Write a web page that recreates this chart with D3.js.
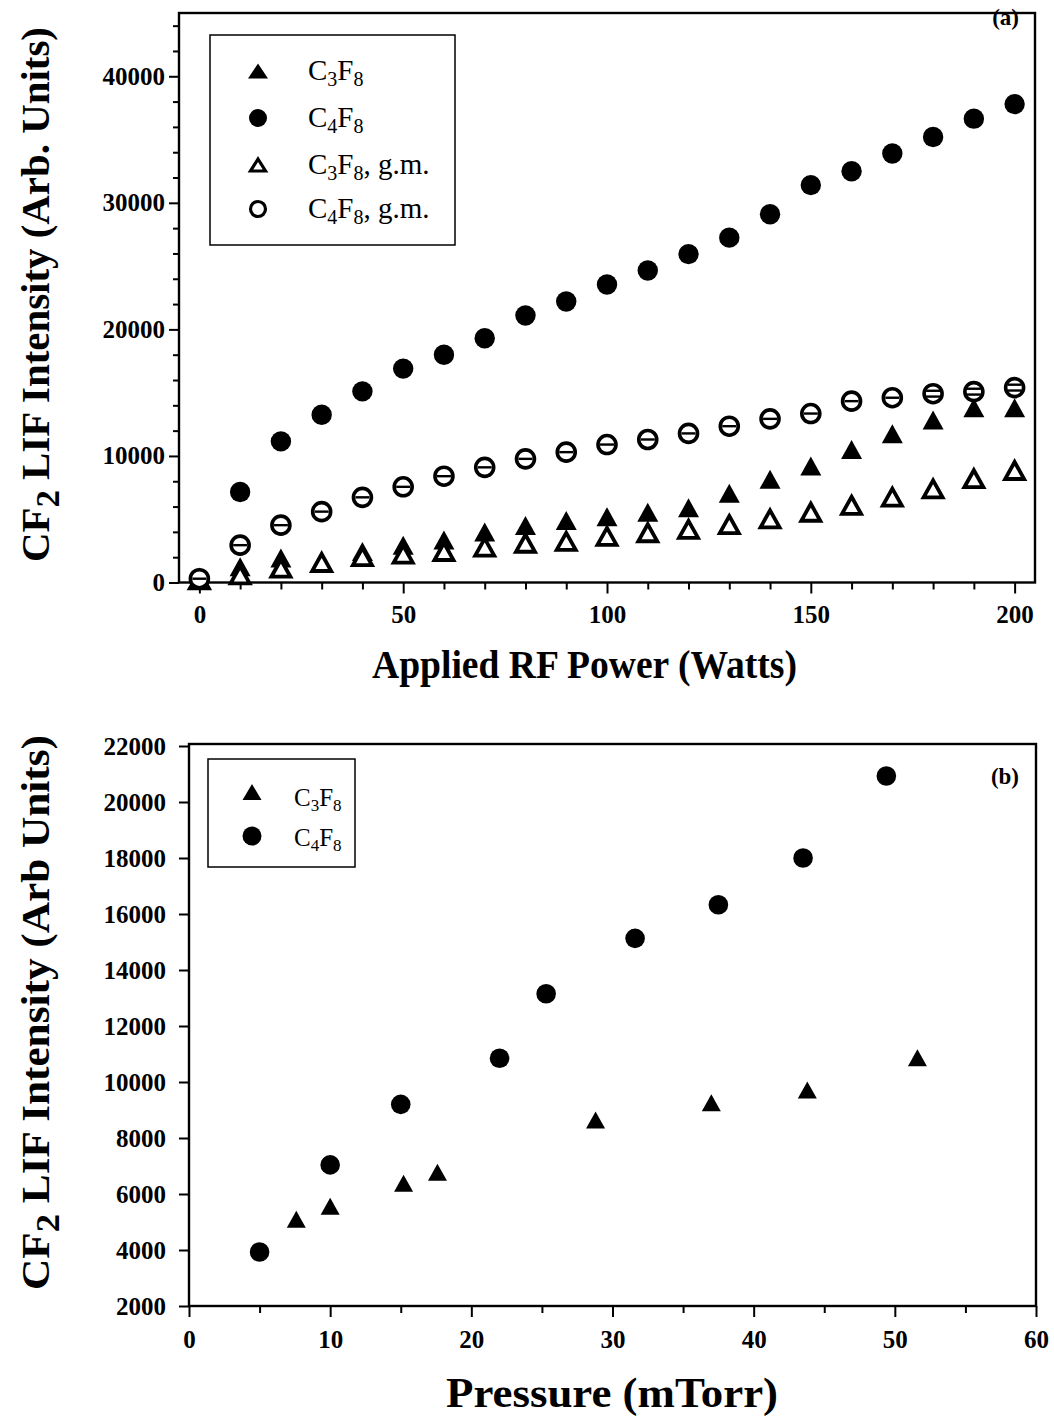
<!DOCTYPE html>
<html><head><meta charset="utf-8">
<script src="https://cdn.jsdelivr.net/npm/d3@7"></script>
<style>body{margin:0;background:#fff}svg{display:block}</style>
</head><body>
<script>
// ---------- Data: panel (a) ----------
const powerW = [0,10,20,30,40,50,60,70,80,90,100,110,120,130,140,150,160,170,180,190,200];
const c3f8_a  = [300,1250,1930,1700,2450,2950,3350,4000,4500,4900,5200,5550,5900,7050,8150,9200,10500,11750,12850,13800,13800];
const c4f8_a  = [300,7150,11150,13250,15100,16900,18000,19300,21100,22200,23550,24650,25950,27250,29100,31400,32500,33900,35200,36650,37800];
const c3f8gm_a = [200,600,1130,1580,2050,2250,2450,2800,3100,3250,3650,3930,4200,4580,5030,5550,6100,6750,7400,8200,8850];
const c4f8gm_a = [300,2950,4530,5600,6730,7560,8400,9100,9770,10300,10900,11300,11780,12350,12930,13350,14330,14600,14920,15080,15400];
const c4f8gm_err = [0,0,0,0,0,0,0,0,0,0,0,0,0,0,0,0,0,0,230,230,230];
const xTicksA = [0,50,100,150,200];
const yTicksA = [0,10000,20000,30000,40000];

// ---------- Data: panel (b) ----------
const pC4 = [5,10,15,22,25.3,31.6,37.5,43.5,49.4];
const c4f8_b = [3930,7040,9200,10850,13150,15130,16330,18000,20930];
const pC3 = [7.6,10,15.2,17.6,28.8,37.0,43.8,51.6];
const c3f8_b = [5100,5560,6380,6780,8640,9260,9710,10870];
const xTicksB = [0,10,20,30,40,50,60];
const yTicksB = [2000,4000,6000,8000,10000,12000,14000,16000,18000,20000,22000];

const W = 1054, H = 1419;
const FONT = "'Liberation Serif','Times New Roman',serif";
const svg = d3.select("body").append("svg").attr("width", W).attr("height", H)
  .style("font-family", FONT);

function triPath(w, h) {
  return `M0,${-h/2}L${w/2},${h/2}L${-w/2},${h/2}Z`;
}

function styleAxis(g, size) {
  g.attr("font-family", FONT);
  g.select(".domain").remove();
  g.selectAll(".tick line").attr("stroke", "#000").attr("stroke-width", 2);
  g.selectAll(".tick text").attr("fill", "#000").style("font-family", FONT)
    .style("font-size", size + "px").style("font-weight", "bold");
}

// ================= Panel (a) =================
{
  const x = d3.scaleLinear().domain([-5, 205]).range([179, 1035]);
  const y = d3.scaleLinear().domain([0, 45000]).range([582.5, 13]);
  const g = svg.append("g");

  const gxm = g.append("g").attr("transform", `translate(0,${y(0)})`)
    .call(d3.axisBottom(x).tickValues(d3.range(0, 201, 10).filter(v => v % 50)).tickSize(7).tickFormat(""));
  styleAxis(gxm, 22);
  const gx = g.append("g").attr("transform", `translate(0,${y(0)})`)
    .call(d3.axisBottom(x).tickValues(xTicksA).tickSize(11).tickPadding(12).tickFormat(d3.format("d")));
  styleAxis(gx, 25);

  const gym = g.append("g").attr("transform", `translate(${x(-5)},0)`)
    .call(d3.axisLeft(y).tickValues(d3.range(0, 45001, 2000).filter(v => v % 10000)).tickSize(6).tickFormat(""));
  styleAxis(gym, 22);
  const gy = g.append("g").attr("transform", `translate(${x(-5)},0)`)
    .call(d3.axisLeft(y).tickValues(yTicksA).tickSize(10).tickPadding(4).tickFormat(d3.format("d")));
  styleAxis(gy, 25);

  g.append("rect").attr("x", x(-5)).attr("y", y(45000)).attr("width", x(205) - x(-5)).attr("height", y(0) - y(45000))
    .attr("fill", "none").attr("stroke", "#000").attr("stroke-width", 2.4);

  const ptsC3gm = powerW.map((p, i) => [p, c3f8gm_a[i]]);
  const ptsC3 = powerW.map((p, i) => [p, c3f8_a[i]]);
  const ptsC4gm = powerW.map((p, i) => [p, c4f8gm_a[i], c4f8gm_err[i]]);
  const ptsC4 = powerW.map((p, i) => [p, c4f8_a[i]]);

  g.append("g").selectAll("path").data(ptsC3).join("path")
    .attr("d", triPath(21, 19)).attr("transform", d => `translate(${x(d[0])},${y(d[1])})`).attr("fill", "#000");
  g.append("g").selectAll("path").data(ptsC3gm).join("path")
    .attr("d", triPath(19, 17)).attr("transform", d => `translate(${x(d[0])},${y(d[1])})`)
    .attr("fill", "#fff").attr("stroke", "#000").attr("stroke-width", 3.8).attr("stroke-linejoin", "miter");
  g.append("g").selectAll("circle").data(ptsC4).join("circle")
    .attr("cx", d => x(d[0])).attr("cy", d => y(d[1])).attr("r", 10.2).attr("fill", "#000");
  const gm = g.append("g").selectAll("g").data(ptsC4gm).join("g")
    .attr("transform", d => `translate(${x(d[0])},${y(d[1])})`);
  gm.append("circle").attr("r", 9).attr("fill", "#fff").attr("stroke", "#000").attr("stroke-width", 3.6);
  gm.each(function(d) {
    const sel = d3.select(this);
    const off = y(d[1]) - y(d[1] + d[2]);
    const offs = d[2] ? [-off, off] : [0];
    offs.forEach(o => sel.append("line").attr("x1", -7).attr("x2", 7).attr("y1", o).attr("y2", o)
      .attr("stroke", "#000").attr("stroke-width", 2.4));
  });

  // legend
  const lg = g.append("g");
  lg.append("rect").attr("x", 210).attr("y", 35).attr("width", 245).attr("height", 210)
    .attr("fill", "#fff").attr("stroke", "#000").attr("stroke-width", 1.5);
  const items = [
    {t: "tf", sub: ["3", "8"], extra: ""},
    {t: "cf", sub: ["4", "8"], extra: ""},
    {t: "to", sub: ["3", "8"], extra: ", g.m."},
    {t: "co", sub: ["4", "8"], extra: ", g.m."}
  ];
  const rowsY = [71, 118, 165, 209];
  items.forEach((it, i) => {
    const cy = rowsY[i], mx = 258;
    if (it.t === "tf") lg.append("path").attr("d", triPath(20, 15)).attr("transform", `translate(${mx},${cy})`).attr("fill", "#000");
    if (it.t === "cf") lg.append("circle").attr("cx", mx).attr("cy", cy).attr("r", 9).attr("fill", "#000");
    if (it.t === "to") lg.append("path").attr("d", triPath(15, 12)).attr("transform", `translate(${mx},${cy})`)
      .attr("fill", "#fff").attr("stroke", "#000").attr("stroke-width", 3.2);
    if (it.t === "co") lg.append("circle").attr("cx", mx).attr("cy", cy).attr("r", 7.5).attr("fill", "#fff").attr("stroke", "#000").attr("stroke-width", 3.2);
    const tx = lg.append("text").attr("x", 308).attr("y", cy + 9).style("font-size", "29px");
    tx.append("tspan").text("C");
    tx.append("tspan").attr("dy", 6).style("font-size", "20px").text(it.sub[0]);
    tx.append("tspan").attr("dy", -6).text("F");
    tx.append("tspan").attr("dy", 6).style("font-size", "20px").text(it.sub[1]);
    tx.append("tspan").attr("dy", -6).text(it.extra);
  });

  g.append("text").attr("x", 1019).attr("y", 25).attr("text-anchor", "end")
    .style("font-size", "23px").style("font-weight", "bold").text("(a)");

  g.append("text").attr("x", 372).attr("y", 678)
    .attr("textLength", 425).attr("lengthAdjust", "spacingAndGlyphs")
    .style("font-size", "40px").style("font-weight", "bold").text("Applied RF Power (Watts)");

  const yt = g.append("text").attr("transform", `translate(49,562) rotate(-90)`)
    .attr("textLength", 535).attr("lengthAdjust", "spacingAndGlyphs")
    .style("font-size", "40px").style("font-weight", "bold");
  yt.append("tspan").text("CF");
  yt.append("tspan").attr("dy", 10).style("font-size", "34px").text("2");
  yt.append("tspan").attr("dy", -10).text(" LIF Intensity (Arb. Units)");
}

// ================= Panel (b) =================
{
  const x = d3.scaleLinear().domain([0, 60]).range([189, 1036]);
  const y = d3.scaleLinear().domain([2000, 22000]).range([1306, 746]);
  const g = svg.append("g");

  const gxm = g.append("g").attr("transform", `translate(0,${y(2000)})`)
    .call(d3.axisBottom(x).tickValues([5,15,25,35,45,55]).tickSize(7).tickFormat(""));
  styleAxis(gxm, 22);
  const gx = g.append("g").attr("transform", `translate(0,${y(2000)})`)
    .call(d3.axisBottom(x).tickValues(xTicksB).tickSize(11).tickPadding(13).tickFormat(d3.format("d")));
  styleAxis(gx, 25);
  const gy = g.append("g").attr("transform", `translate(${x(0)},0)`)
    .call(d3.axisLeft(y).tickValues(yTicksB).tickSize(10).tickPadding(13).tickFormat(d3.format("d")));
  styleAxis(gy, 25);

  g.append("rect").attr("x", x(0)).attr("y", y(22000) - 2).attr("width", x(60) - x(0)).attr("height", y(2000) - y(22000) + 2)
    .attr("fill", "none").attr("stroke", "#000").attr("stroke-width", 2.4);

  g.append("g").selectAll("path").data(pC3.map((p, i) => [p, c3f8_b[i]])).join("path")
    .attr("d", triPath(19, 17)).attr("transform", d => `translate(${x(d[0])},${y(d[1])})`).attr("fill", "#000");
  g.append("g").selectAll("circle").data(pC4.map((p, i) => [p, c4f8_b[i]])).join("circle")
    .attr("cx", d => x(d[0])).attr("cy", d => y(d[1])).attr("r", 9.8).attr("fill", "#000");

  const lg = g.append("g");
  lg.append("rect").attr("x", 208).attr("y", 759).attr("width", 147).attr("height", 108)
    .attr("fill", "#fff").attr("stroke", "#000").attr("stroke-width", 1.5);
  lg.append("path").attr("d", triPath(19, 16)).attr("transform", "translate(252,792)").attr("fill", "#000");
  lg.append("circle").attr("cx", 252).attr("cy", 836).attr("r", 9.5).attr("fill", "#000");
  [["3", 806], ["4", 846]].forEach(([s, by]) => {
    const tx = lg.append("text").attr("x", 294).attr("y", by).style("font-size", "25px");
    tx.append("tspan").text("C");
    tx.append("tspan").attr("dy", 5).style("font-size", "17px").text(s);
    tx.append("tspan").attr("dy", -5).text("F");
    tx.append("tspan").attr("dy", 5).style("font-size", "17px").text("8");
  });

  g.append("text").attr("x", 1019).attr("y", 784).attr("text-anchor", "end")
    .style("font-size", "23px").style("font-weight", "bold").text("(b)");

  g.append("text").attr("x", 446).attr("y", 1407)
    .attr("textLength", 332).attr("lengthAdjust", "spacingAndGlyphs")
    .style("font-size", "42px").style("font-weight", "bold").text("Pressure (mTorr)");

  const yt = g.append("text").attr("transform", `translate(49,1290) rotate(-90)`)
    .attr("textLength", 555).attr("lengthAdjust", "spacingAndGlyphs")
    .style("font-size", "40px").style("font-weight", "bold");
  yt.append("tspan").text("CF");
  yt.append("tspan").attr("dy", 10).style("font-size", "34px").text("2");
  yt.append("tspan").attr("dy", -10).text(" LIF Intensity (Arb Units)");
}
</script>
</body></html>
